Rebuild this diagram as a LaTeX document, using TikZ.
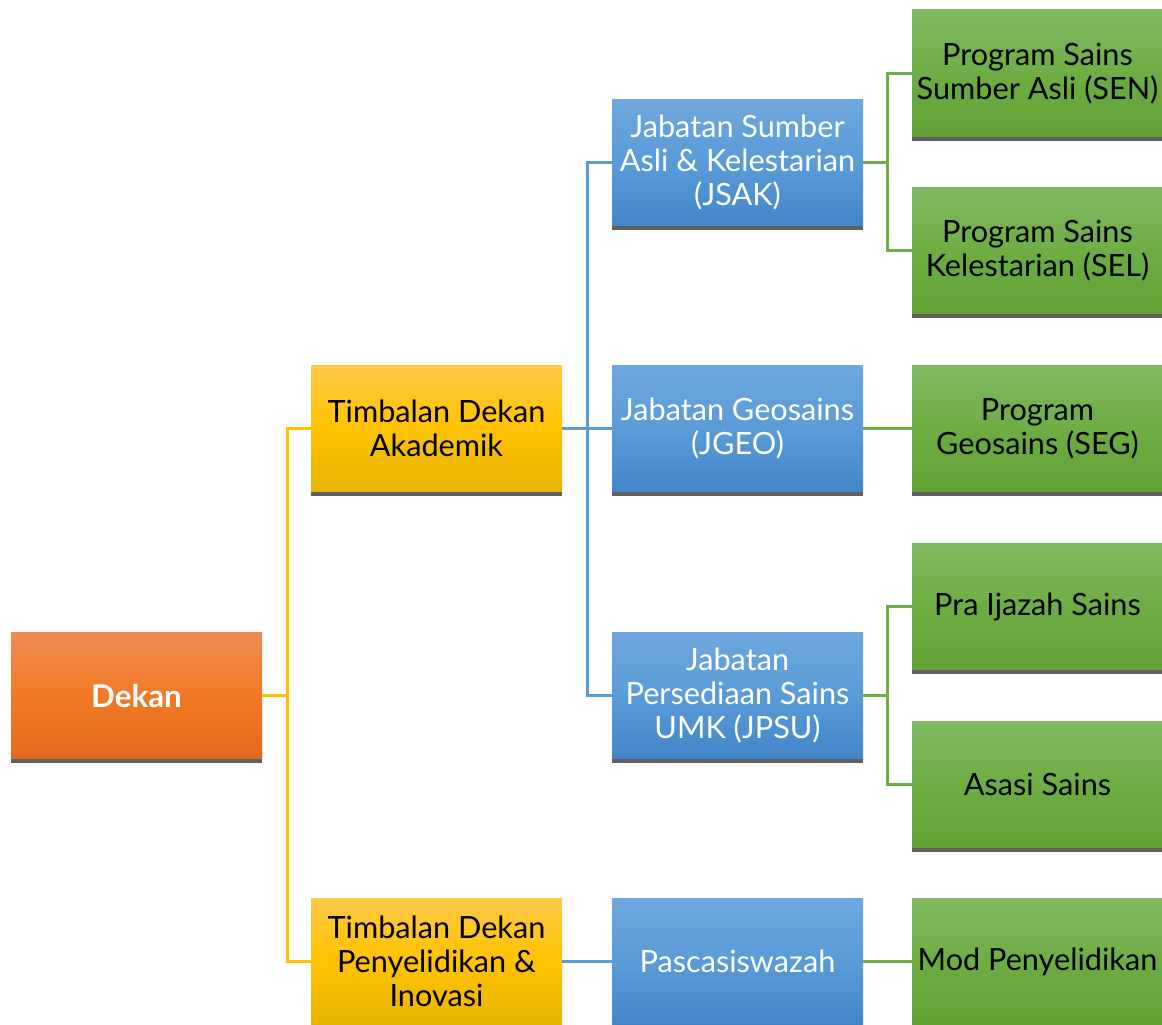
\documentclass[tikz,border=0pt]{standalone}
\usepackage{fontspec}
\setmainfont{Lato}
\usepackage{tikz}

\definecolor{OrangeTop}{HTML}{F08C54}
\definecolor{OrangeMid}{HTML}{F27A26}
\definecolor{OrangeBot}{HTML}{E2691A}
\definecolor{GoldTop}{HTML}{FFC848}
\definecolor{GoldMid}{HTML}{FFC300}
\definecolor{GoldBot}{HTML}{E6B400}
\definecolor{BlueTop}{HTML}{6EA7DC}
\definecolor{BlueMid}{HTML}{5A9BD8}
\definecolor{BlueBot}{HTML}{4286C9}
\definecolor{GreenTop}{HTML}{80B962}
\definecolor{GreenMid}{HTML}{6EAD43}
\definecolor{GreenBot}{HTML}{62A133}
\definecolor{GoldLine}{HTML}{FFC000}
\definecolor{BlueLine}{HTML}{5B9BD5}
\definecolor{GreenLine}{HTML}{70AD47}
\definecolor{ShadowGray}{HTML}{606060}

\tikzset{
  orgbox/.style={rectangle, minimum width=188.25pt, minimum height=95.25pt,
    inner sep=1pt, align=center, font=\fontsize{23}{25.5}\selectfont},
  dekanbox/.style={orgbox, top color=OrangeTop, bottom color=OrangeBot, middle color=OrangeMid,
    text=white, font=\fontsize{23.5}{25.5}\selectfont\bfseries},
  timbalanbox/.style={orgbox, top color=GoldTop, bottom color=GoldBot, middle color=GoldMid},
  jabatanbox/.style={orgbox, top color=BlueTop, bottom color=BlueBot, middle color=BlueMid, text=white},
  programbox/.style={orgbox, top color=GreenTop, bottom color=GreenBot, middle color=GreenMid},
  link/.style={line width=1.9pt}
}

\begin{document}
\begin{tikzpicture}[x=0.75pt,y=-0.75pt]
  \useasboundingbox (0,0) rectangle (1162,1024);

  % boxes
  \node[dekanbox] (dekan) at (136.5,695.5) {Dekan};

  \node[timbalanbox] (akad) at (436.5,428.5) {Timbalan Dekan\\Akademik};
  \node[timbalanbox] (penyel) at (436.5,961.5) {Timbalan Dekan\\Penyelidikan \&\\Inovasi};

  \node[jabatanbox] (jsak) at (737.5,162.5) {Jabatan Sumber\\Asli \& Kelestarian\\(JSAK)};
  \node[jabatanbox] (jgeo) at (737.5,428.5) {Jabatan Geosains\\(JGEO)};
  \node[jabatanbox] (jpsu) at (737.5,695.5) {Jabatan\\Persediaan Sains\\UMK (JPSU)};
  \node[jabatanbox] (pasca) at (737.5,961.5) {Pascasiswazah};

  \node[programbox] (sen) at (1037.5,73.5) {Program Sains\\Sumber Asli (SEN)};
  \node[programbox] (sel) at (1037.5,250.5) {Program Sains\\Kelestarian (SEL)};
  \node[programbox] (seg) at (1037.5,428.5) {Program\\Geosains (SEG)};
  \node[programbox] (pra) at (1037.5,606.5) {Pra Ijazah Sains};
  \node[programbox] (asasi) at (1037.5,784.5) {Asasi Sains};
  \node[programbox] (mod) at (1037.5,961.5) {Mod Penyelidikan};

  % bottom shadows
  \foreach \n in {dekan,akad,penyel,jsak,jgeo,jpsu,pasca,sen,sel,seg,pra,asasi,mod}
    \fill[ShadowGray] (\n.south west) rectangle ([yshift=-3pt]\n.south east);

  % connectors
  \draw[link, GoldLine] (dekan.east) -- ++(25,0) |- (akad.west);
  \draw[link, GoldLine] (dekan.east) -- ++(25,0) |- (penyel.west);

  \draw[link, BlueLine] (akad.east) -- ++(25,0) |- (jsak.west);
  \draw[link, BlueLine] (akad.east) -- (jgeo.west);
  \draw[link, BlueLine] (akad.east) -- ++(25,0) |- (jpsu.west);
  \draw[link, BlueLine] (penyel.east) -- (pasca.west);

  \draw[link, GreenLine] (jsak.east) -- ++(24,0) |- (sen.west);
  \draw[link, GreenLine] (jsak.east) -- ++(24,0) |- (sel.west);
  \draw[link, GreenLine] (jgeo.east) -- (seg.west);
  \draw[link, GreenLine] (jpsu.east) -- ++(24,0) |- (pra.west);
  \draw[link, GreenLine] (jpsu.east) -- ++(24,0) |- (asasi.west);
  \draw[link, GreenLine] (pasca.east) -- (mod.west);
\end{tikzpicture}
\end{document}
